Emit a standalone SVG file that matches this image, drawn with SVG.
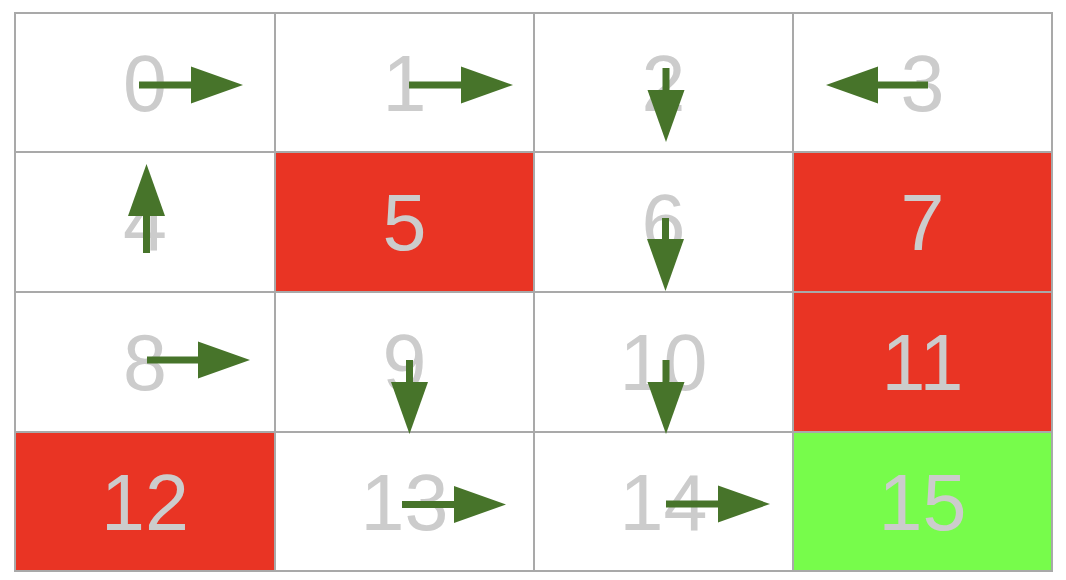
<svg xmlns="http://www.w3.org/2000/svg" width="1066" height="580" viewBox="0 0 1066 580">
<style>
.cell{stroke:#a9a9a9;stroke-width:2}
.w{fill:#ffffff}
.r{fill:#e93424}
.g{fill:#77fc4b}
.t{font-family:"Liberation Sans",Arial,sans-serif;font-size:79px;fill:#cccccc;text-anchor:middle}
.a{stroke:#47742a;stroke-width:7;fill:none;marker-end:url(#ah)}
</style>
<defs>
<marker id="ah" markerUnits="userSpaceOnUse" markerWidth="52" markerHeight="37" refX="0" refY="18.5" orient="auto" overflow="visible">
<path d="M0,0 L52,18.5 L0,37 z" fill="#47742a"/>
</marker>
</defs>
<rect width="1066" height="580" fill="#ffffff"/>
<g id="cell0"><rect class="cell w" x="15" y="13" width="260" height="139"/><text class="t" x="145" y="111">0</text></g>
<g id="cell1"><rect class="cell w" x="275" y="13" width="259" height="139"/><text class="t" x="404.5" y="111">1</text></g>
<g id="cell2"><rect class="cell w" x="534" y="13" width="259" height="139"/><text class="t" x="663.5" y="111">2</text></g>
<g id="cell3"><rect class="cell w" x="793" y="13" width="259" height="139"/><text class="t" x="922.5" y="111">3</text></g>
<g id="cell4"><rect class="cell w" x="15" y="152" width="260" height="140"/><text class="t" x="145" y="250">4</text></g>
<g id="cell5"><rect class="cell r" x="275" y="152" width="259" height="140"/><text class="t" x="404.5" y="250">5</text></g>
<g id="cell6"><rect class="cell w" x="534" y="152" width="259" height="140"/><text class="t" x="663.5" y="250">6</text></g>
<g id="cell7"><rect class="cell r" x="793" y="152" width="259" height="140"/><text class="t" x="922.5" y="250">7</text></g>
<g id="cell8"><rect class="cell w" x="15" y="292" width="260" height="140"/><text class="t" x="145" y="390">8</text></g>
<g id="cell9"><rect class="cell w" x="275" y="292" width="259" height="140"/><text class="t" x="404.5" y="390">9</text></g>
<g id="cell10"><rect class="cell w" x="534" y="292" width="259" height="140"/><text class="t" x="663.5" y="390">10</text></g>
<g id="cell11"><rect class="cell r" x="793" y="292" width="259" height="140"/><text class="t" x="922.5" y="390">11</text></g>
<g id="cell12"><rect class="cell r" x="15" y="432" width="260" height="139"/><text class="t" x="145" y="530">12</text></g>
<g id="cell13"><rect class="cell w" x="275" y="432" width="259" height="139"/><text class="t" x="404.5" y="530">13</text></g>
<g id="cell14"><rect class="cell w" x="534" y="432" width="259" height="139"/><text class="t" x="663.5" y="530">14</text></g>
<g id="cell15"><rect class="cell g" x="793" y="432" width="259" height="139"/><text class="t" x="922.5" y="530">15</text></g>
<g id="connectors">
<line class="a" x1="139" y1="85" x2="191" y2="85"/>
<line class="a" x1="409" y1="85" x2="461" y2="85"/>
<line class="a" x1="666" y1="68" x2="666" y2="90"/>
<line class="a" x1="928" y1="85" x2="878" y2="85"/>
<line class="a" x1="146.5" y1="253" x2="146.5" y2="216"/>
<line class="a" x1="665.5" y1="218" x2="665.5" y2="239"/>
<line class="a" x1="147" y1="360" x2="198" y2="360"/>
<line class="a" x1="409.5" y1="360" x2="409.5" y2="382"/>
<line class="a" x1="666" y1="360" x2="666" y2="382"/>
<line class="a" x1="402" y1="504.5" x2="454" y2="504.5"/>
<line class="a" x1="666" y1="504" x2="718" y2="504"/>
</g>
</svg>
